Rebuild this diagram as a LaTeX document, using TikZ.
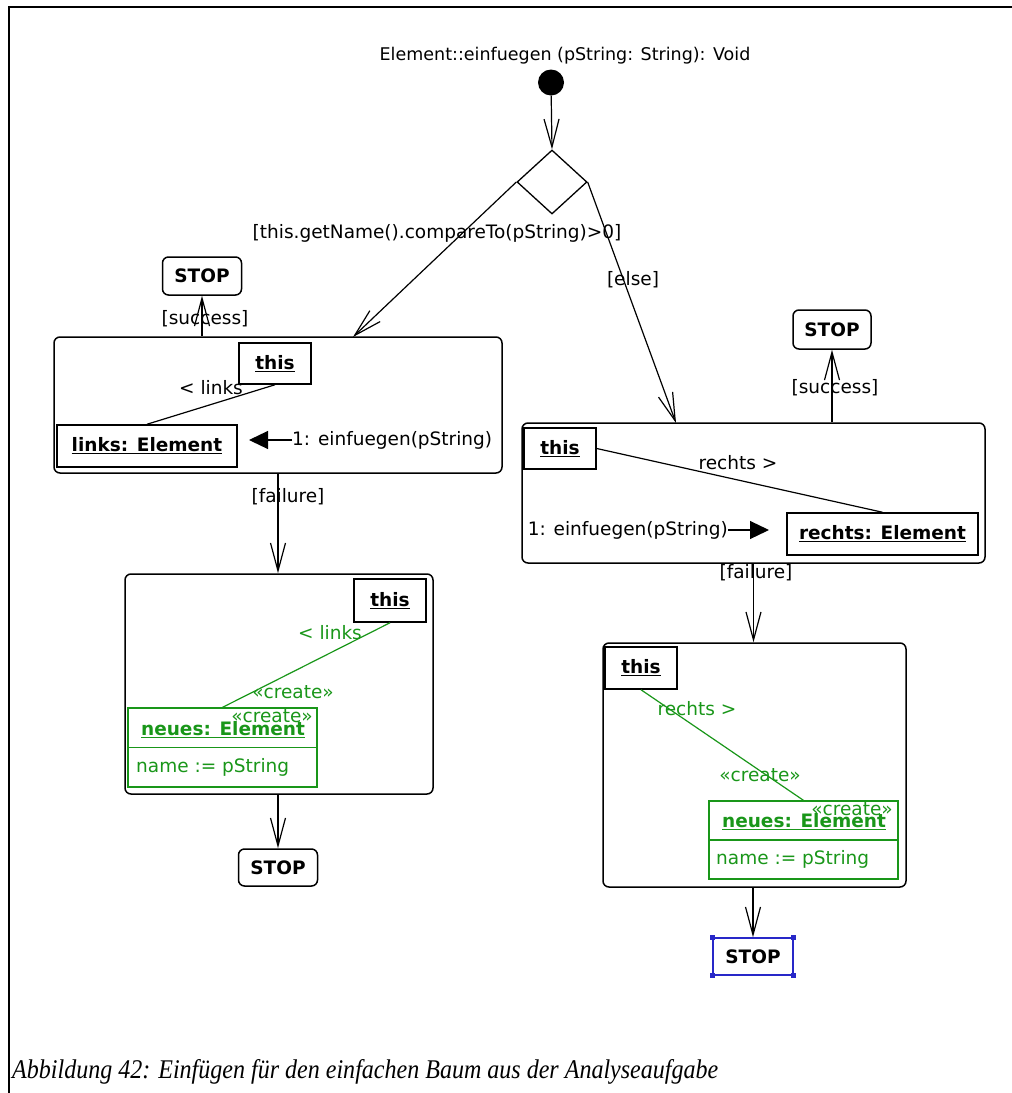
\documentclass[tikz,border=0pt]{standalone}
\usepackage{fontspec}
\setmainfont{Liberation Serif}
\setsansfont{DejaVu Sans}
\usetikzlibrary{arrows.meta,shapes.geometric,positioning}

\definecolor{creategreen}{RGB}{25,150,25}
\definecolor{selblue}{RGB}{40,40,200}

\newcommand{\umlfont}{\sffamily\fontsize{18.5}{22}\selectfont}

\tikzset{
  uml/.style={font=\umlfont,inner sep=0pt},
  flow/.style={-{Straight Barb[length=28pt,width=15pt]},line width=1.2pt},
  msg/.style={-{Triangle[length=19pt,width=18pt]},line width=1.2pt},
  activity/.style={draw,rounded corners=6pt,line width=1.5pt,inner sep=0pt},
  obj/.style={draw,line width=1.5pt,font=\umlfont\bfseries,inner sep=0pt},
  stopbox/.style={draw,rounded corners=6pt,line width=1.5pt,font=\umlfont\bfseries,
    inner sep=0pt,minimum width=79pt,minimum height=38pt},
  newobj/.style={draw=creategreen,line width=1.3pt,inner sep=0pt},
  newlabel/.style={uml,text=creategreen},
}

\begin{document}
\begin{tikzpicture}[x=1pt,y=-1pt]
  \useasboundingbox (0,0) rectangle (1012,1093);
  % page frame
  \draw[line width=2pt] (9,1093) -- (9,7) -- (1012,7);

  % start and choice
  \node[uml,font=\sffamily\fontsize{17.5}{21}\selectfont] (title) at (565,56) {Element::einfuegen (pString: String): Void};
  \node[circle,fill,minimum size=26pt,inner sep=0pt] (start) at (551,82.5) {};
  \node[diamond,draw,line width=1.3pt,minimum width=70pt,minimum height=64pt,inner sep=0pt] (choice) at (552,182) {};
  \draw[flow] (start) -- (choice.north);

  % activity: links branch
  \node[activity,minimum width=448pt,minimum height=136pt] (leftact) at (278,405) {};
  \node[obj,minimum width=72pt,minimum height=41pt] (thisA) at (275,363.5) {\underline{this}};
  \node[obj,minimum width=180pt,minimum height=42pt] (linksA) at (147,446) {\underline{links: Element}};
  \draw[line width=1.2pt] (thisA.south) -- (linksA.north);
  \node[uml] (linksAlbl) at (211,388) {< links};
  \node[uml,anchor=west] (callA) at (292,440) {1: einfuegen(pString)};
  \coordinate (callAtip) at (249,440);
  \draw[msg] (callA.west) -- (callAtip);

  % activity: rechts branch
  \node[activity,minimum width=463pt,minimum height=140pt] (rightact) at (753.5,493) {};
  \node[obj,minimum width=72pt,minimum height=41pt] (thisB) at (560,448.5) {\underline{this}};
  \node[obj,minimum width=191pt,minimum height=42pt] (rechtsB) at (882.5,534) {\underline{rechts: Element}};
  \draw[line width=1.2pt] (thisB.east) -- (rechtsB.north);
  \node[uml] (rechtsBlbl) at (738,463) {rechts >};
  \node[uml,anchor=east] (callB) at (728,530) {1: einfuegen(pString)};
  \coordinate (callBtip) at (769,530);
  \draw[msg] (callB.east) -- (callBtip);

  % guards from the choice
  \coordinate (leftin) at (353,337);
  \coordinate (rightin) at (676,423);
  \draw[flow] (choice.west) -- (leftin);
  \draw[flow] (choice.east) -- (rightin);
  \node[uml] (guardA) at (437,233) {[this.getName().compareTo(pString)>0]};
  \node[uml] (guardB) at (633,280) {[else]};

  % success ends
  \node[stopbox] (stopA) at (202,276) {STOP};
  \node[stopbox,minimum width=78pt,minimum height=39pt] (stopB) at (832,329.5) {STOP};
  \draw[flow] (leftact.north -| stopA) -- (stopA.south);
  \draw[flow] (rightact.north -| stopB) -- (stopB.south);
  \node[uml] (succA) at (205,319) {[success]};
  \node[uml] (succB) at (835,388) {[success]};

  % creating the left element
  \node[activity,minimum width=308pt,minimum height=220pt] (lowleft) at (279,684) {};
  \node[obj,minimum width=72pt,minimum height=43pt] (thisC) at (390,600.5) {\underline{this}};
  \node[newobj,minimum width=189pt,minimum height=79pt] (neuesL) at (222.5,747.5) {};
  \draw[creategreen,line width=1.2pt] (neuesL.west) -- (neuesL.east);
  \node[newlabel,font=\umlfont\bfseries] (neuesLname) at (223,730) {\underline{neues: Element}};
  \node[newlabel,anchor=west] (neuesLattr) at (136,767) {name := pString};
  \draw[creategreen,line width=1.2pt] (thisC.south) -- (neuesL.north);
  \node[newlabel] (linksClbl) at (330,633) {< links};
  \node[newlabel] (createC) at (293,692) {«create»};
  \node[newlabel] (createCobj) at (272,716) {«create»};

  % creating the right element
  \node[activity,minimum width=303pt,minimum height=244pt] (lowright) at (754.5,765) {};
  \node[obj,minimum width=72pt,minimum height=42pt] (thisD) at (641,668) {\underline{this}};
  \node[newobj,minimum width=189pt,minimum height=78pt] (neuesR) at (803.5,840) {};
  \draw[creategreen,line width=1.2pt] (neuesR.west) -- (neuesR.east);
  \node[newlabel,font=\umlfont\bfseries] (neuesRname) at (804,822) {\underline{neues: Element}};
  \node[newlabel,anchor=west] (neuesRattr) at (716,859) {name := pString};
  \draw[creategreen,line width=1.2pt] (thisD.south) -- (neuesR.north);
  \node[newlabel] (rechtsDlbl) at (697,709) {rechts >};
  \node[newlabel] (createD) at (760,775) {«create»};
  \node[newlabel] (createDobj) at (852,809) {«create»};

  % failure branches
  \draw[flow] (leftact.south) -- (leftact.south |- lowleft.north);
  \draw[flow] (rightact.south) -- (rightact.south |- lowright.north);
  \node[uml] (failA) at (288,497) {[failure]};
  \node[uml] (failB) at (756,573) {[failure]};

  % final stops
  \node[stopbox,minimum height=37pt] (stopC) at (278,867.5) {STOP};
  \node[stopbox,draw=selblue,rounded corners=0pt,minimum width=80pt,minimum height=37pt] (stopD) at (753,956.5) {STOP};
  \foreach \c in {north west,north east,south west,south east}
    \fill[selblue] (stopD.\c) ++(-2.5,-2.5) rectangle ++(5,5);
  \draw[flow] (lowleft.south -| stopC) -- (stopC.north);
  \draw[flow] (lowright.south -| stopD) -- (stopD.north);

  \node[anchor=base west,inner sep=0pt,xscale=0.89,font=\itshape\fontsize{27}{32}\selectfont] (caption) at (12,1078)
    {Abbildung 42: Einfügen für den einfachen Baum aus der Analyseaufgabe};
\end{tikzpicture}
\end{document}
